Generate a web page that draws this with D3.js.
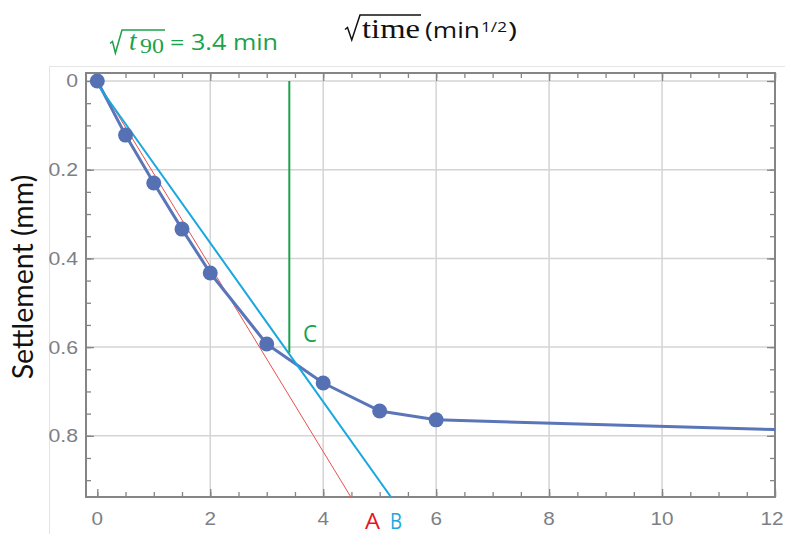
<!DOCTYPE html>
<html><head><meta charset="utf-8">
<script src="https://cdn.jsdelivr.net/npm/d3@7"></script>
<style>body{margin:0;background:#fff}svg{display:block}</style>
</head><body>
<svg id="c" width="785" height="534"></svg>
<script>
// ---- data ----
const sqrtTime = [0, 0.5, 1, 1.5, 2, 3, 4, 5, 6];
const settlement = [0, 0.122, 0.230, 0.334, 0.433, 0.593, 0.681, 0.744, 0.764];
const tailX = [6, 12];
const tailY = [0.764, 0.786];
const lineA = [[0, 0], [4.49, 0.938]];
const lineB = [[-0.04, 0], [5.2, 0.938]];
const t90 = 3.4;
const t90Y = [0, 0.613];
const xTicks = [0, 2, 4, 6, 8, 10, 12];
const yTicks = [0, 0.2, 0.4, 0.6, 0.8];

const svg = d3.select("#c");
const L = 86, R = 775, T = 73, B = 497;
const x = d3.scaleLinear([-0.2, 12], [L, R]);
const y = d3.scaleLinear([-0.018, 0.938], [T, B]);

// faint outer image border
svg.append("path").attr("d", `M49.5,534 V66.5 H785`).attr("fill","none").attr("stroke","#e4e4e4").attr("stroke-width",1);

// grid
const g = svg.append("g");
g.selectAll(".vg").data(xTicks.filter(d=>d>0 && d<12)).join("line")
  .attr("x1", d=>x(d)).attr("x2", d=>x(d)).attr("y1", T).attr("y2", B)
  .attr("stroke", "#d4d4d4").attr("stroke-width", 1.5);
g.selectAll(".hg").data(yTicks).join("line")
  .attr("x1", L).attr("x2", R).attr("y1", d=>y(d)).attr("y2", d=>y(d))
  .attr("stroke", "#d4d4d4").attr("stroke-width", 1.5);

// axes with inward ticks
const minorX = d3.range(0, 12.001, 0.5);
const minorY = d3.range(0, 0.9001, 0.05);
const axCol = "#858585";
function styleAxis(sel){ sel.select(".domain").remove(); sel.selectAll("line").attr("stroke", axCol).attr("stroke-width",1.3); sel.selectAll("text").remove(); }
svg.append("g").attr("transform",`translate(0,${B})`).call(d3.axisBottom(x).tickValues(minorX).tickSize(-5).tickFormat("")).call(styleAxis);
svg.append("g").attr("transform",`translate(0,${B})`).call(d3.axisBottom(x).tickValues(xTicks).tickSize(-8).tickFormat("")).call(styleAxis);
svg.append("g").attr("transform",`translate(0,${T})`).call(d3.axisTop(x).tickValues(minorX).tickSize(-5).tickFormat("")).call(styleAxis);
svg.append("g").attr("transform",`translate(0,${T})`).call(d3.axisTop(x).tickValues(xTicks).tickSize(-8).tickFormat("")).call(styleAxis);
svg.append("g").attr("transform",`translate(${L},0)`).call(d3.axisLeft(y).tickValues(minorY).tickSize(-5).tickFormat("")).call(styleAxis);
svg.append("g").attr("transform",`translate(${L},0)`).call(d3.axisLeft(y).tickValues(yTicks).tickSize(-8).tickFormat("")).call(styleAxis);
svg.append("g").attr("transform",`translate(${R},0)`).call(d3.axisRight(y).tickValues(minorY).tickSize(-5).tickFormat("")).call(styleAxis);
svg.append("g").attr("transform",`translate(${R},0)`).call(d3.axisRight(y).tickValues(yTicks).tickSize(-8).tickFormat("")).call(styleAxis);

// frame
svg.append("rect").attr("x",L).attr("y",T).attr("width",R-L).attr("height",B-T)
  .attr("fill","none").attr("stroke",axCol).attr("stroke-width",2);

// tick labels (horizontally stretched like the reference)
const lblFont = "'Liberation Sans', Arial, sans-serif";
const tickCol = "#7d7f86";
svg.append("g").selectAll("text").data(xTicks).join("text")
  .attr("transform", d=>`translate(${d===12 ? x(d)-3 : x(d)},${B+28}) scale(1.15,1)`).attr("text-anchor","middle")
  .attr("font-family", lblFont).attr("font-size", 18).attr("fill",tickCol)
  .text(d=>d3.format("d")(d));
svg.append("g").selectAll("text").data(yTicks).join("text")
  .attr("transform", d=>`translate(${L-8},${y(d)+6.5}) scale(1.18,1)`).attr("text-anchor","end")
  .attr("font-family", lblFont).attr("font-size", 18).attr("fill",tickCol)
  .text(d=>d===0?"0":d3.format(".1f")(d));

// clip
svg.append("clipPath").attr("id","clip").append("rect").attr("x",L).attr("y",T).attr("width",R-L).attr("height",B-T);
const plot = svg.append("g").attr("clip-path","url(#clip)");

const ln = d3.line().x(d=>x(d[0])).y(d=>y(d[1]));
plot.append("path").attr("d", ln(lineA)).attr("fill","none").attr("stroke","#e8504c").attr("stroke-width",1);

// data line
const pts = sqrtTime.map((v,i)=>[v, settlement[i]]);
const tail = tailX.map((v,i)=>[v, tailY[i]]);
plot.append("path").attr("d", ln(pts.concat(tail.slice(1)))).attr("fill","none")
  .attr("stroke","#5a76b8").attr("stroke-width",3).attr("stroke-linejoin","round");
plot.append("path").attr("d", ln(lineB)).attr("fill","none").attr("stroke","#19a7df").attr("stroke-width",2);
plot.selectAll("circle").data(pts).join("circle")
  .attr("cx", d=>x(d[0])).attr("cy", d=>y(d[1])).attr("r", 7.5).attr("fill","#5571b3");

// green t90 line
plot.append("line").attr("x1", x(t90)).attr("x2", x(t90)).attr("y1", y(t90Y[0])).attr("y2", y(t90Y[1]))
  .attr("stroke","#1ba24b").attr("stroke-width",2);

// labels
const lblF = "'Open Sans', Lato, sans-serif";
function txt(x0, base, str, f, s, w, col, extra, adj){
  const t = svg.append("text").attr("x",x0).attr("y",base).attr("font-family",f).attr("font-size",s)
    .attr("fill",col).text(str);
  if (w) t.attr("textLength", w).attr("lengthAdjust", adj || "spacingAndGlyphs");
  if (extra) extra(t);
  return t;
}
txt(303, 342, "C", lblF, 23, 14, "#1ba24b");
txt(365, 529, "A", lblF, 22, 15, "#e8141c");
txt(390, 529, "B", lblF, 22, 12, "#19a7df");

// y axis title
svg.append("text").attr("transform","translate(33,277) rotate(-90)").attr("text-anchor","middle")
  .attr("font-family","Lato, sans-serif").attr("font-size",28.5).attr("fill","#111").text("Settlement (mm)");

const serifI = "'Liberation Serif', serif";
function radical(x0, top, bottom, w, xEnd, col){
  const h = bottom - top;
  svg.append("path")
    .attr("d", `M${x0},${top+0.58*h} L${x0+2.5},${top+0.5*h} L${x0+0.45*w},${bottom} L${x0+w},${top} H${xEnd}`)
    .attr("fill","none").attr("stroke",col).attr("stroke-width",1.5).attr("stroke-linejoin","miter");
}
// green title: √t90 = 3.4 min
const gcol = "#1ba24b";
radical(110, 30, 53, 12, 165, gcol);
txt(129, 50, "t", serifI, 27, 0, gcol, t=>t.attr("font-style","italic"));
txt(140, 53, "90", serifI, 20, 24, gcol);
txt(170, 50, "= 3.4 min", lblF, 21, 108, gcol);

// black title: √time (min^1/2)
const bcol = "#111";
radical(345, 15, 40, 15, 421, bcol);
txt(362, 38, "time", serifI, 27, 58, bcol);
txt(425, 38, "(min", lblF, 21, 55, bcol);
txt(481, 32, "1/2", lblF, 14, 26, bcol);
txt(508, 38, ")", lblF, 21, 9, bcol);
</script>
</body></html>
